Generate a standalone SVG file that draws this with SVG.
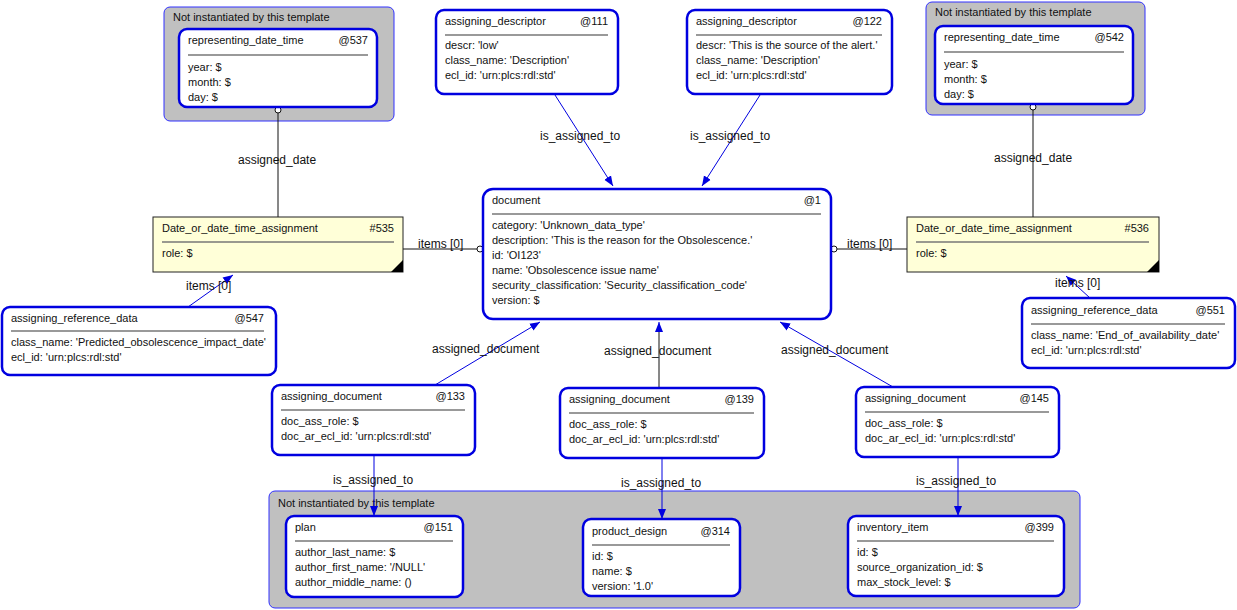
<svg xmlns="http://www.w3.org/2000/svg" width="1237" height="610" viewBox="0 0 1237 610">
<style>
text{font-family:"Liberation Sans",Arial,sans-serif;font-size:11px;fill:#111}
.grp{fill:#c0c0c0;stroke:#3030ff;stroke-width:1}
.ent{fill:#fff;stroke:#0000e0;stroke-width:2.5}
.sel{fill:#ffffd8;stroke:#222;stroke-width:1}
.sep{stroke:#777;stroke-width:1.5}
.bl{stroke:#0000e0;stroke-width:1;fill:none}
.k{stroke:#111;stroke-width:1;fill:none}
.lbl{font-size:12px}
</style>
<defs>
<marker id="ar" viewBox="0 0 10 10" refX="10" refY="5" markerWidth="10" markerHeight="10" orient="auto" markerUnits="userSpaceOnUse"><path d="M0,1 L10,5 L0,9 Z" fill="#0000e0"/></marker>
</defs>
<rect class="grp" x="164" y="7" width="230" height="114" rx="6"/>
<text x="173" y="21">Not instantiated by this template</text>
<rect class="grp" x="926" y="2" width="219" height="113" rx="6"/>
<text x="935" y="16">Not instantiated by this template</text>
<rect class="grp" x="269" y="491" width="811" height="117" rx="6"/>
<text x="278" y="507">Not instantiated by this template</text>

<g id="connectors">
<line class="k" x1="278" y1="111" x2="278" y2="217"/><circle cx="278" cy="110" r="3" fill="#fff" stroke="#111"/>
<text class="lbl" x="238" y="164">assigned_date</text>
<line class="k" x1="1033" y1="109" x2="1033" y2="217"/><circle cx="1033" cy="107" r="3" fill="#fff" stroke="#111"/>
<text class="lbl" x="994" y="162">assigned_date</text>
<line class="bl" x1="555" y1="95" x2="613" y2="186" marker-end="url(#ar)"/>
<text class="lbl" x="540" y="140">is_assigned_to</text>
<line class="bl" x1="760" y1="95" x2="702" y2="186" marker-end="url(#ar)"/>
<text class="lbl" x="690" y="140">is_assigned_to</text>
<line class="k" x1="403" y1="249" x2="477" y2="249"/><circle cx="480" cy="249" r="3" fill="#fff" stroke="#111"/>
<text class="lbl" x="418" y="248">items [0]</text>
<line class="k" x1="907" y1="249" x2="837" y2="249"/><circle cx="834" cy="249" r="3" fill="#fff" stroke="#111"/>
<text class="lbl" x="847" y="248">items [0]</text>
<line class="bl" x1="188" y1="307" x2="233" y2="275" marker-end="url(#ar)"/>
<text class="lbl" x="186" y="290">items [0]</text>
<line class="bl" x1="1090" y1="298" x2="1066" y2="276" marker-end="url(#ar)"/>
<text class="lbl" x="1055" y="287">items [0]</text>
<line class="bl" x1="435" y1="385" x2="540" y2="322" marker-end="url(#ar)"/>
<text class="lbl" x="432" y="353">assigned_document</text>
<line class="k" x1="659" y1="388" x2="659" y2="330"/>
<line class="bl" x1="659" y1="332" x2="659" y2="322" marker-end="url(#ar)"/>
<text class="lbl" x="604" y="355">assigned_document</text>
<line class="bl" x1="893" y1="387" x2="780" y2="322" marker-end="url(#ar)"/>
<text class="lbl" x="781" y="354">assigned_document</text>
<line class="bl" x1="374" y1="455" x2="374" y2="516" marker-end="url(#ar)"/>
<text class="lbl" x="333" y="484">is_assigned_to</text>
<line class="bl" x1="662" y1="458" x2="662" y2="519" marker-end="url(#ar)"/>
<text class="lbl" x="621" y="487">is_assigned_to</text>
<line class="bl" x1="958" y1="457" x2="958" y2="516" marker-end="url(#ar)"/>
<text class="lbl" x="916" y="485">is_assigned_to</text>
</g>

<g id="rdt537"><rect class="ent" x="179" y="29" width="198" height="78" rx="8"/>
<text x="188" y="44">representing_date_time</text><text x="368" y="44" text-anchor="end">@537</text>
<line class="sep" x1="188" y1="55" x2="368" y2="55"/>
<text x="188" y="71">year: $</text><text x="188" y="86">month: $</text><text x="188" y="101">day: $</text></g>

<g id="rdt542"><rect class="ent" x="935" y="26" width="198" height="78" rx="8"/>
<text x="944" y="41">representing_date_time</text><text x="1124" y="41" text-anchor="end">@542</text>
<line class="sep" x1="944" y1="52" x2="1124" y2="52"/>
<text x="944" y="68">year: $</text><text x="944" y="83">month: $</text><text x="944" y="98">day: $</text></g>

<g id="desc111"><rect class="ent" x="436" y="10" width="182" height="84" rx="8"/>
<text x="445" y="25">assigning_descriptor</text><text x="608" y="25" text-anchor="end">@111</text>
<line class="sep" x1="445" y1="35" x2="608" y2="35"/>
<text x="445" y="49">descr: 'low'</text><text x="445" y="64">class_name: 'Description'</text><text x="445" y="79">ecl_id: 'urn:plcs:rdl:std'</text></g>

<g id="desc122"><rect class="ent" x="687" y="10" width="205" height="84" rx="8"/>
<text x="696" y="25">assigning_descriptor</text><text x="882" y="25" text-anchor="end">@122</text>
<line class="sep" x1="696" y1="35" x2="882" y2="35"/>
<text x="696" y="49">descr: 'This is the source of the alert.'</text><text x="696" y="64">class_name: 'Description'</text><text x="696" y="79">ecl_id: 'urn:plcs:rdl:std'</text></g>

<g id="document"><rect class="ent" x="483" y="189" width="348" height="130" rx="10"/>
<text x="492" y="204">document</text><text x="821" y="204" text-anchor="end">@1</text>
<line class="sep" x1="492" y1="214" x2="821" y2="214"/>
<text x="492" y="229">category: 'Unknown_data_type'</text>
<text x="492" y="244">description: 'This is the reason for the Obsolescence.'</text>
<text x="492" y="259">id: 'OI123'</text>
<text x="492" y="274">name: 'Obsolescence issue name'</text>
<text x="492" y="289">security_classification: 'Security_classification_code'</text>
<text x="492" y="304">version: $</text></g>

<g id="date535"><rect class="sel" x="153" y="217" width="250" height="55"/>
<text x="162" y="232">Date_or_date_time_assignment</text><text x="394" y="232" text-anchor="end">#535</text>
<line class="sep" x1="162" y1="242" x2="394" y2="242"/>
<text x="162" y="257">role: $</text><path d="M403,260 L403,272 L391,272 Z" fill="#000"/></g>

<g id="date536"><rect class="sel" x="907" y="217" width="252" height="55"/>
<text x="916" y="232">Date_or_date_time_assignment</text><text x="1149" y="232" text-anchor="end">#536</text>
<line class="sep" x1="916" y1="242" x2="1149" y2="242"/>
<text x="916" y="257">role: $</text><path d="M1159,260 L1159,272 L1147,272 Z" fill="#000"/></g>

<g id="ard547"><rect class="ent" x="2" y="307" width="274" height="68" rx="8"/>
<text x="11" y="322">assigning_reference_data</text><text x="264" y="322" text-anchor="end">@547</text>
<line class="sep" x1="11" y1="331" x2="264" y2="331"/>
<text x="11" y="346">class_name: 'Predicted_obsolescence_impact_date'</text><text x="11" y="361">ecl_id: 'urn:plcs:rdl:std'</text></g>

<g id="ard551"><rect class="ent" x="1022" y="298" width="213" height="70" rx="8"/>
<text x="1031" y="314">assigning_reference_data</text><text x="1225" y="314" text-anchor="end">@551</text>
<line class="sep" x1="1031" y1="324" x2="1225" y2="324"/>
<text x="1031" y="339">class_name: 'End_of_availability_date'</text><text x="1031" y="354">ecl_id: 'urn:plcs:rdl:std'</text></g>

<g id="ad133"><rect class="ent" x="272" y="385" width="203" height="70" rx="8"/>
<text x="281" y="400">assigning_document</text><text x="465" y="400" text-anchor="end">@133</text>
<line class="sep" x1="281" y1="410" x2="465" y2="410"/>
<text x="281" y="425">doc_ass_role: $</text><text x="281" y="440">doc_ar_ecl_id: 'urn:plcs:rdl:std'</text></g>

<g id="ad139"><rect class="ent" x="560" y="388" width="204" height="70" rx="8"/>
<text x="569" y="403">assigning_document</text><text x="754" y="403" text-anchor="end">@139</text>
<line class="sep" x1="569" y1="413" x2="754" y2="413"/>
<text x="569" y="428">doc_ass_role: $</text><text x="569" y="443">doc_ar_ecl_id: 'urn:plcs:rdl:std'</text></g>

<g id="ad145"><rect class="ent" x="856" y="387" width="203" height="70" rx="8"/>
<text x="865" y="402">assigning_document</text><text x="1049" y="402" text-anchor="end">@145</text>
<line class="sep" x1="865" y1="412" x2="1049" y2="412"/>
<text x="865" y="427">doc_ass_role: $</text><text x="865" y="442">doc_ar_ecl_id: 'urn:plcs:rdl:std'</text></g>

<g id="plan"><rect class="ent" x="286" y="516" width="177" height="81" rx="8"/>
<text x="295" y="531">plan</text><text x="453" y="531" text-anchor="end">@151</text>
<line class="sep" x1="295" y1="541" x2="453" y2="541"/>
<text x="295" y="556">author_last_name: $</text><text x="295" y="571">author_first_name: '/NULL'</text><text x="295" y="586">author_middle_name: ()</text></g>

<g id="product_design"><rect class="ent" x="583" y="519" width="157" height="77" rx="8"/>
<text x="592" y="535">product_design</text><text x="730" y="535" text-anchor="end">@314</text>
<line class="sep" x1="592" y1="545" x2="730" y2="545"/>
<text x="592" y="560">id: $</text><text x="592" y="575">name: $</text><text x="592" y="590">version: '1.0'</text></g>

<g id="inventory_item"><rect class="ent" x="848" y="516" width="216" height="80" rx="8"/>
<text x="857" y="531">inventory_item</text><text x="1054" y="531" text-anchor="end">@399</text>
<line class="sep" x1="857" y1="541" x2="1054" y2="541"/>
<text x="857" y="556">id: $</text><text x="857" y="571">source_organization_id: $</text><text x="857" y="586">max_stock_level: $</text></g>
</svg>
